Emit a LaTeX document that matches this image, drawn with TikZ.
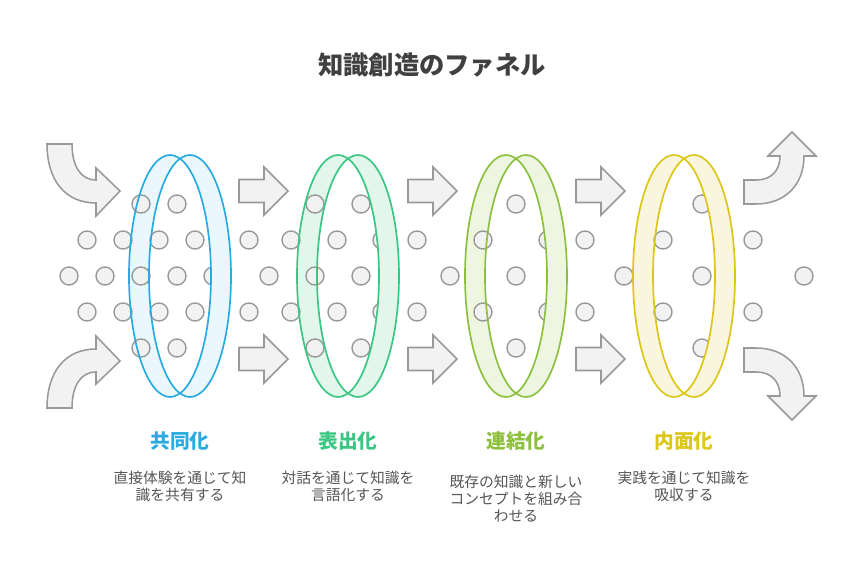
\documentclass[tikz,border=0pt]{standalone}
\usepackage{fontspec}
\setmainfont{Noto Sans CJK JP}
\usetikzlibrary{positioning}
\definecolor{socblue}{HTML}{29ABE2}
\definecolor{extgreen}{HTML}{3CC683}
\definecolor{comblime}{HTML}{8DC03F}
\definecolor{intyellow}{HTML}{DDC61A}
\definecolor{dotgray}{HTML}{999999}
\definecolor{textgray}{HTML}{555555}

% ring of one phase: back band / front band / outlines
\newcommand{\ringback}[2]{\fill[#2,even odd rule] (#1-10,276) ellipse[x radius=41,y radius=121] (#1+10,276) ellipse[x radius=41,y radius=121];}
\newcommand{\ringfront}[3]{%
  \begin{scope}
    \clip (#1,150) rectangle (#1+60,402);
    \fill[#3,even odd rule] (#1-10,276) ellipse[x radius=41,y radius=121] (#1+10,276) ellipse[x radius=41,y radius=121];
  \end{scope}
  \draw[#2,line width=1.2pt] (#1-10,276) ellipse[x radius=41,y radius=121] (#1+10,276) ellipse[x radius=41,y radius=121];}
\newcommand{\straightarrow}[2]{\draw[blockarrow] (#1,#2-11.5) -- (#1+25,#2-11.5) -- (#1+25,#2-24) -- (#1+49,#2) -- (#1+25,#2+24) -- (#1+25,#2+11.5) -- (#1,#2+11.5) -- cycle;}

\begin{document}
\begin{tikzpicture}[x=0.025cm,y=-0.025cm,
    dot/.style={circle, draw=dotgray, fill=gray!10, line width=1pt, minimum size=0.45cm, inner sep=0pt},
    blockarrow/.style={draw=dotgray, fill=gray!10, line width=1.1pt, line join=miter},
    phase/.style={font=\bfseries\fontsize{14}{16}\selectfont},
    desc/.style={text=textgray, font=\fontsize{10.5}{12.3}\selectfont, align=center, anchor=north}
]
\useasboundingbox (0,0) rectangle (864,577);

% title
\node[text=black!75, font=\bfseries\fontsize{18}{21}\selectfont] (title) at (432,65) {知識創造のファネル};

% back bands
\ringback{180}{socblue!10}
\ringback{348}{extgreen!15}
\ringback{516}{comblime!15}
\ringback{684}{intyellow!15}

% dots
\foreach \y/\xs in {204/{141,177,315,361,516,702},
                    240/{87,123,159,195,249,291,337,382,417,483,548,585,663,753},
                    276/{69,105,141,177,213,269,315,361,450,516,624,702,804},
                    312/{87,123,159,195,249,291,337,382,417,483,548,585,663,753},
                    348/{141,177,315,361,516,702}}
  \foreach \x in \xs
    \node[dot] (d-\x-\y) at (\x,\y) {};

% front bands
\ringfront{180}{socblue}{socblue!10}
\ringfront{348}{extgreen}{extgreen!15}
\ringfront{516}{comblime}{comblime!15}
\ringfront{684}{intyellow}{intyellow!15}

% straight arrows
\foreach \x in {239,408,576} {
  \straightarrow{\x}{191}
  \straightarrow{\x}{359}
}

% curved arrows in
\draw[blockarrow] (47,144) -- (72,144) .. controls (72,165) and (80,180) .. (96,180) -- (96,168) -- (120,191) -- (96,216) -- (96,203) .. controls (65,203) and (47,180) .. (47,144) -- cycle;
\draw[blockarrow] (47,408) -- (72,408) .. controls (72,387) and (80,372) .. (96,372) -- (96,384) -- (120,361) -- (96,336) -- (96,349) .. controls (65,349) and (47,372) .. (47,408) -- cycle;

% curved arrows out
\draw[blockarrow] (744,180) -- (756,180) .. controls (772,180) and (780,170) .. (780,156) -- (768,156) -- (792,132) -- (816,156) -- (804,156) .. controls (804,185) and (785,204) .. (756,204) -- (744,204) -- cycle;
\draw[blockarrow] (744,372) -- (756,372) .. controls (772,372) and (780,382) .. (780,396) -- (768,396) -- (792,420) -- (816,396) -- (804,396) .. controls (804,367) and (785,348) .. (756,348) -- (744,348) -- cycle;

% labels
\node[phase, text=socblue] (soc) at (180,441) {共同化};
\node[phase, text=extgreen] (ext) at (348,441) {表出化};
\node[phase, text=comblime] (comb) at (516,441) {連結化};
\node[phase, text=intyellow] (int) at (684,441) {内面化};
\node[desc] (socdesc) at (180,466) {直接体験を通じて知\\識を共有する};
\node[desc] (extdesc) at (348,466) {対話を通じて知識を\\言語化する};
\node[desc] (combdesc) at (516,470) {既存の知識と新しい\\コンセプトを組み合\\わせる};
\node[desc] (intdesc) at (684,466) {実践を通じて知識を\\吸収する};
\end{tikzpicture}
\end{document}
